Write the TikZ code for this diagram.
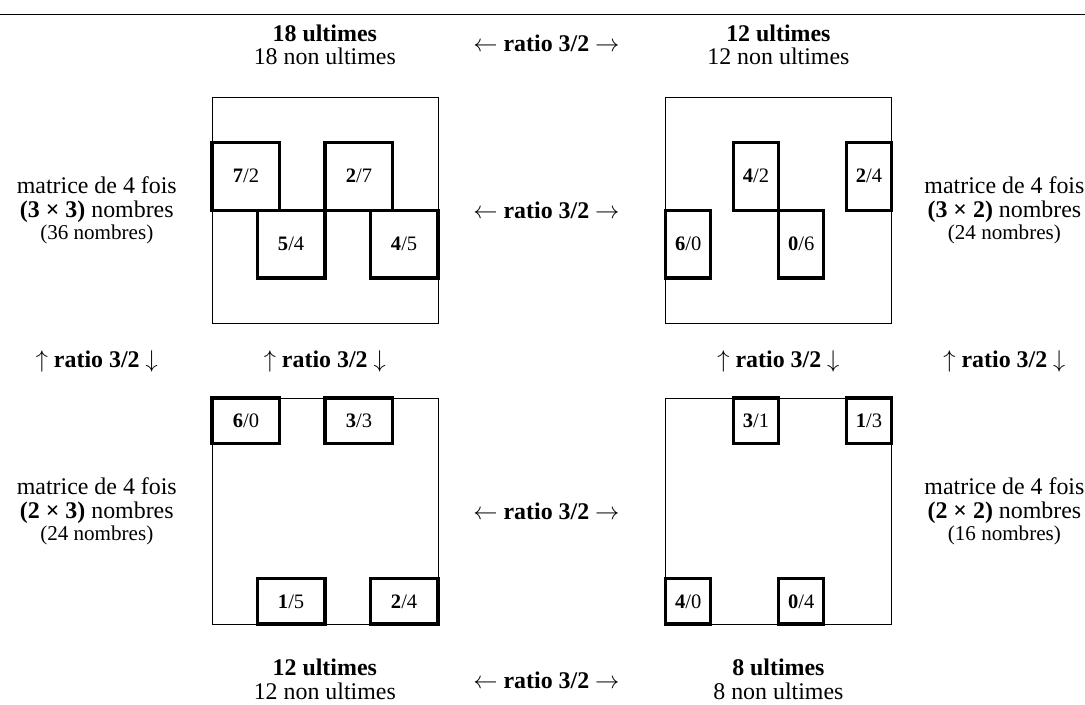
\documentclass[tikz,border=0pt]{standalone}
\usepackage{fontspec}
\setmainfont{Liberation Serif}
\usepackage{tikz}
\usetikzlibrary{positioning}

\newcommand{\smallnb}[1]{{\fontsize{15}{15}\selectfont #1}}

\begin{document}
\begin{tikzpicture}[
    txt/.style      = {align=center, inner sep=0pt, font=\fontsize{17}{17}\selectfont},
    ratio/.style    = {txt, font=\fontsize{17}{17}\selectfont\bfseries},
    bigsq/.style    = {draw, line width=0.7pt, inner sep=0pt, outer sep=0pt, minimum size=5.65cm},
    cell/.style     = {draw, line width=2.2pt, inner sep=0pt, font=\fontsize{14.6}{17}\selectfont},
    cellthree/.style = {cell, minimum width=1.695cm, minimum height=1.695cm},
    celltall/.style  = {cell, minimum width=1.13cm,  minimum height=1.695cm},
    cellwide/.style  = {cell, minimum width=1.695cm, minimum height=1.13cm},
    cellsmall/.style = {cell, minimum width=1.13cm,  minimum height=1.13cm},
  ]
  \useasboundingbox (0,0) rectangle (27.125,-17.6);

  %% rule across the top
  \coordinate (ruleL) at (0,-0.35);
  \coordinate (ruleR) at (27.125,-0.35);
  \draw[line width=0.7pt] (ruleL) -- (ruleR);

  %% ── The four matrices ────────────────────────────────────────────────────
  \node[bigsq] (sqTL) at (8.125, -5.255)  {};
  \node[bigsq] (sqTR) at (19.465, -5.255) {};
  \node[bigsq] (sqBL) at (8.125, -12.775) {};
  \node[bigsq] (sqBR) at (19.465, -12.775) {};

  %% 3 x 3 blocks
  \begin{scope}[shift={(sqTL.north west)}, x=0.565cm, y=-0.565cm]
    \node[cellthree] (tl72) at (1.5, 3.5) {\textbf{7}/2};
    \node[cellthree] (tl27) at (6.5, 3.5) {\textbf{2}/7};
    \node[cellthree] (tl54) at (3.5, 6.5) {\textbf{5}/4};
    \node[cellthree] (tl45) at (8.5, 6.5) {\textbf{4}/5};
  \end{scope}

  %% 3 x 2 blocks
  \begin{scope}[shift={(sqTR.north west)}, x=0.565cm, y=-0.565cm]
    \node[celltall] (tr42) at (4, 3.5)   {\textbf{4}/2};
    \node[celltall] (tr24) at (9, 3.5)   {\textbf{2}/4};
    \node[celltall] (tr60) at (1, 6.5)   {\textbf{6}/0};
    \node[celltall] (tr06) at (6, 6.5)   {\textbf{0}/6};
  \end{scope}

  %% 2 x 3 blocks
  \begin{scope}[shift={(sqBL.north west)}, x=0.565cm, y=-0.565cm]
    \node[cellwide] (bl60) at (1.5, 1) {\textbf{6}/0};
    \node[cellwide] (bl33) at (6.5, 1) {\textbf{3}/3};
    \node[cellwide] (bl15) at (3.5, 9) {\textbf{1}/5};
    \node[cellwide] (bl24) at (8.5, 9) {\textbf{2}/4};
  \end{scope}

  %% 2 x 2 blocks
  \begin{scope}[shift={(sqBR.north west)}, x=0.565cm, y=-0.565cm]
    \node[cellsmall] (br31) at (4, 1) {\textbf{3}/1};
    \node[cellsmall] (br13) at (9, 1) {\textbf{1}/3};
    \node[cellsmall] (br40) at (1, 9) {\textbf{4}/0};
    \node[cellsmall] (br04) at (6, 9) {\textbf{0}/4};
  \end{scope}

  %% ── Counts above and below ──────────────────────────────────────────────
  \node[txt] (cntTL) at (8.12, -1.12)   {\textbf{18 ultimes}\\18 non ultimes};
  \node[txt] (cntTR) at (19.46, -1.12)  {\textbf{12 ultimes}\\12 non ultimes};
  \node[txt] (cntBL) at (8.12, -16.98)  {\textbf{12 ultimes}\\12 non ultimes};
  \node[txt] (cntBR) at (19.46, -16.98) {\textbf{8 ultimes}\\8 non ultimes};

  %% ── Side descriptions ───────────────────────────────────────────────────
  \node[txt] (dscTL) at (2.42, -5.255)
        {matrice de 4 fois\\\textbf{(3 × 3)} nombres\\[-1.5pt]\smallnb{(36 nombres)}};
  \node[txt] (dscTR) at (25.11, -5.255)
        {matrice de 4 fois\\\textbf{(3 × 2)} nombres\\[-1.5pt]\smallnb{(24 nombres)}};
  \node[txt] (dscBL) at (2.42, -12.775)
        {matrice de 4 fois\\\textbf{(2 × 3)} nombres\\[-1.5pt]\smallnb{(24 nombres)}};
  \node[txt] (dscBR) at (25.11, -12.775)
        {matrice de 4 fois\\\textbf{(2 × 2)} nombres\\[-1.5pt]\smallnb{(16 nombres)}};

  %% ── Ratios ──────────────────────────────────────────────────────────────
  \node[ratio] (rTop) at (13.66, -1.08)   {$\leftarrow$ ratio 3/2 $\rightarrow$};
  \node[ratio] (rUp)  at (13.66, -5.255)  {$\leftarrow$ ratio 3/2 $\rightarrow$};
  \node[ratio] (rLow) at (13.66, -12.775) {$\leftarrow$ ratio 3/2 $\rightarrow$};
  \node[ratio] (rBot) at (13.66, -17.0)   {$\leftarrow$ ratio 3/2 $\rightarrow$};

  \node[ratio] (vA) at (2.42, -9.03)  {$\uparrow$ ratio 3/2 $\downarrow$};
  \node[ratio] (vB) at (8.12, -9.03)  {$\uparrow$ ratio 3/2 $\downarrow$};
  \node[ratio] (vC) at (19.46, -9.03) {$\uparrow$ ratio 3/2 $\downarrow$};
  \node[ratio] (vD) at (25.11, -9.03) {$\uparrow$ ratio 3/2 $\downarrow$};

\end{tikzpicture}
\end{document}
